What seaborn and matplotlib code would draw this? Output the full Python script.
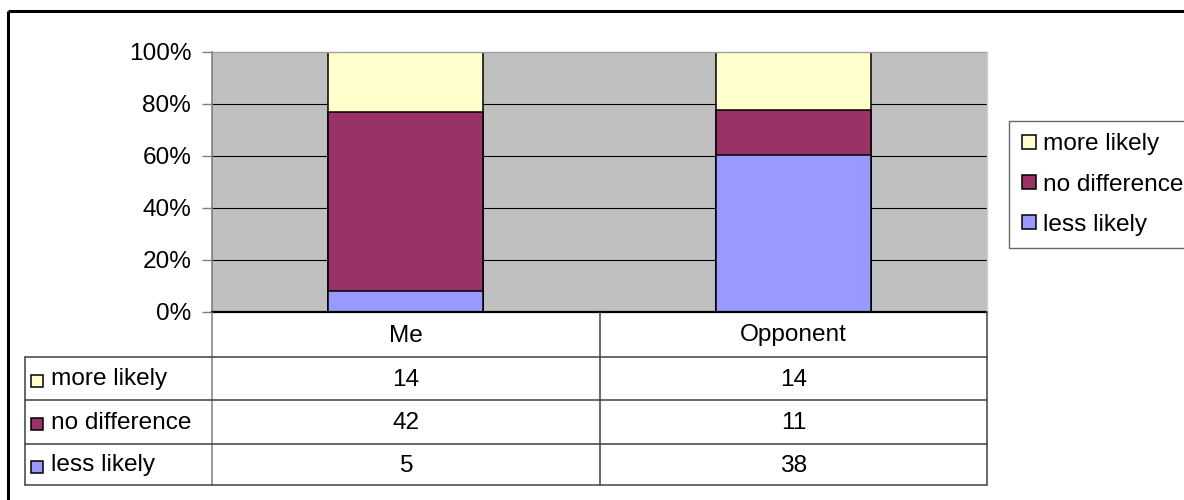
import matplotlib
matplotlib.use("Agg")
import matplotlib.pyplot as plt
from matplotlib.lines import Line2D
import seaborn as sns
import numpy as np
import pandas as pd

categories = ["Me", "Opponent"]
series_names = ["more likely", "no difference", "less likely"]
more_likely = [14, 14]
no_difference = [42, 11]
less_likely = [5, 38]
y_ticks = [0, 20, 40, 60, 80, 100]
y_tick_labels = ["0%", "20%", "40%", "60%", "80%", "100%"]

colors = {"more likely": "#FFFFCC", "no difference": "#993366", "less likely": "#9999FF"}

sns.set_style("white")
plt.rcParams["font.family"] = ["Liberation Sans", "DejaVu Sans"]
plt.rcParams["text.color"] = "black"
plt.rcParams["ytick.labelcolor"] = "black"
FS = 17.6

W, H = 1184, 500
fig = plt.figure(figsize=(W / 100, H / 100), dpi=100)
fig.patch.set_facecolor("white")

# plot area in pixels
L, R, T, B = 212, 987, 52, 312
ax = fig.add_axes([L / W, 1 - B / H, (R - L) / W, (B - T) / H])
ax.set_facecolor("#C0C0C0")

ml = np.array(more_likely, float)
nd = np.array(no_difference, float)
ll = np.array(less_likely, float)
tot = ml + nd + ll
p_ll = ll / tot * 100
p_nd = nd / tot * 100
p_ml = ml / tot * 100

layers = [
    ("more likely", p_ll + p_nd + p_ml),
    ("no difference", p_ll + p_nd),
    ("less likely", p_ll),
]
for name, vals in layers:
    df = pd.DataFrame({"cat": categories, "val": vals})
    sns.barplot(data=df, x="cat", y="val", color=colors[name], width=0.4,
                edgecolor="black", linewidth=1.1, saturation=1, errorbar=None,
                ax=ax, zorder=3)

ax.set_ylim(0, 100)
ax.set_xlim(-0.5, 1.5)
ax.set_yticks(y_ticks)
ax.set_yticklabels(y_tick_labels, fontsize=FS, color="black")
ax.set_xlabel("")
ax.set_ylabel("")
ax.tick_params(axis="x", bottom=False, labelbottom=False)
ax.tick_params(axis="y", left=True, length=7, width=1, color="#808080", pad=8, direction="out")
for yv in y_ticks[1:-1]:
    ax.axhline(yv, color="black", lw=0.8, zorder=1)
for s in ["top", "right"]:
    ax.spines[s].set_visible(False)
ax.spines["left"].set_color("#808080")
ax.spines["left"].set_linewidth(1.2)
ax.spines["bottom"].set_color("black")
ax.spines["bottom"].set_linewidth(1.6)
ax.spines["bottom"].set_zorder(5)

# overlay in pixel coordinates for the data table and frame
ov = fig.add_axes([0, 0, 1, 1], facecolor="none")
ov.set_xlim(0, W)
ov.set_ylim(H, 0)
ov.axis("off")

lc = "#404040"
ov.plot([L, R], [T, T], color="#A0A0A0", lw=1)
ov.plot([R, R], [T, B], color="#D0D0D0", lw=1)
row_y = [357, 400, 444, 485]
col_x = [L, 600, R]
for x in col_x:
    ov.plot([x, x], [B, row_y[-1]], color="#808080" if x == L else lc, lw=1.1)
ov.plot([25, 25], [row_y[0], row_y[-1]], color=lc, lw=1.1)
for y in row_y:
    ov.plot([25, R], [y, y], color=lc, lw=1.1)

col_centers = [(col_x[i] + col_x[i + 1]) / 2 for i in range(len(categories))]
for cx, cat in zip(col_centers, categories):
    ov.text(cx, (B + row_y[0]) / 2 + 1, cat, ha="center", va="center", fontsize=FS)

table_rows = [("more likely", more_likely), ("no difference", no_difference), ("less likely", less_likely)]
for i, (name, vals) in enumerate(table_rows):
    yc = (row_y[i] + row_y[i + 1]) / 2 + 1
    ov.plot([37], [yc + 1], marker="s", markersize=8.5, markerfacecolor=colors[name],
            markeredgecolor="black", markeredgewidth=1.1, linestyle="none")
    ov.text(51, yc, name, ha="left", va="center", fontsize=FS)
    for cx, v in zip(col_centers, vals):
        ov.text(cx, yc, str(v), ha="center", va="center", fontsize=FS)

ov.plot([8, W + 5], [11, 11], color="black", lw=2.2, solid_capstyle="butt")
ov.plot([8, 8], [11, H + 5], color="black", lw=2.2, solid_capstyle="butt")

handles = [Line2D([0], [0], marker="s", linestyle="none", markersize=9.5,
                  markerfacecolor=colors[n], markeredgecolor="black", markeredgewidth=1.1)
           for n in series_names]
leg = fig.legend(handles, series_names, loc="upper left",
                 bbox_to_anchor=(1009 / W, 1 - 121 / H), borderaxespad=0,
                 fontsize=FS, frameon=True, fancybox=False, edgecolor="#404040",
                 handlelength=0.6, handletextpad=0.3, labelspacing=0.74, borderpad=0.5)
leg.get_frame().set_linewidth(1.0)

fig.savefig("out.png", dpi=100, facecolor="white")
